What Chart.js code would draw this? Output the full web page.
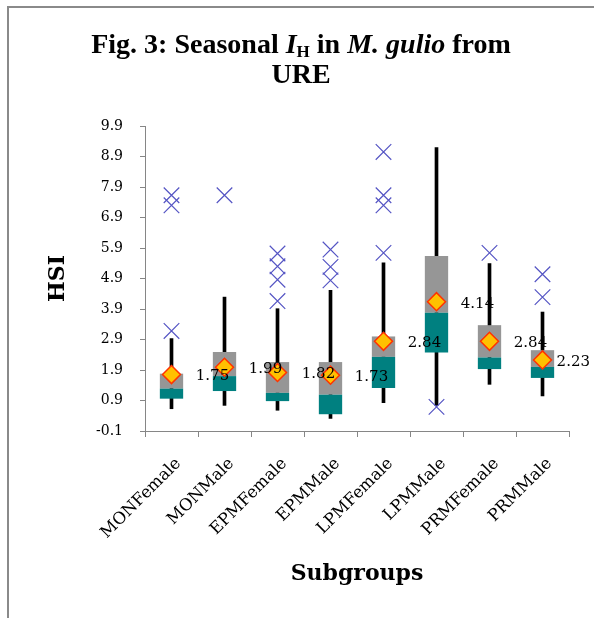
<!DOCTYPE html>
<html>
<head>
<meta charset="utf-8">
<script src="https://cdn.jsdelivr.net/npm/chart.js@4.4.1/dist/chart.umd.min.js"></script>
<style>
    html, body { margin: 0; padding: 0; background: #fff; }
    #wrap { position: relative; width: 594px; height: 618px; overflow: hidden; }
    #frame { position: absolute; left: 7px; top: 6px; right: -10px; bottom: -10px; border-top: 2px solid #8a8a8a; border-left: 2px solid #8a8a8a; }
    #title { position: absolute; left: 0; top: 29px; width: 602px; text-align: center; font-family: "Liberation Serif", serif; font-weight: bold; font-size: 28px; line-height: 30px; color: #000; }
    #title sub { font-size: 17px; vertical-align: -4px; line-height: 0; }
    canvas { position: absolute; left: 0; top: 0; }
</style>
</head>
<body>
<div id="wrap">
    <canvas id="hsiChart" width="594" height="618"></canvas>
    <div id="frame"></div>
    <div id="title">Fig. 3: Seasonal <i>I</i><sub>H</sub> in <i>M. gulio</i> from<br>URE</div>
</div>
<script>
// Данные диаграммы
var categories = ['MONFemale', 'MONMale', 'EPMFemale', 'EPMMale', 'LPMFemale', 'LPMMale', 'PRMFemale', 'PRMMale'];
var whiskerLow = [0.63, 0.74, 0.58, 0.31, 0.83, 0.74, 1.43, 1.05];
var q1 = [0.96, 1.21, 0.88, 0.45, 1.31, 2.47, 1.93, 1.64];
var median = [1.29, 1.70, 1.15, 1.09, 2.33, 3.78, 2.31, 2.00];
var q3 = [1.78, 2.49, 2.16, 2.16, 3.00, 5.64, 3.37, 2.55];
var whiskerHigh = [2.93, 4.29, 3.91, 4.51, 5.41, 9.19, 5.39, 3.80];
var means = [1.75, 1.99, 1.82, 1.73, 2.84, 4.14, 2.84, 2.23];
var outliers = [[7.63, 7.30, 3.18], [7.63], [5.72, 5.30, 4.86, 4.16], [5.85, 5.28, 4.84], [9.05, 7.63, 7.30, 5.74], [0.69], [5.74], [5.04, 4.29]];
var yTicks = [-0.1, 0.9, 1.9, 2.9, 3.9, 4.9, 5.9, 6.9, 7.9, 8.9, 9.9];

var serif = '"DejaVu Serif", serif';

// Выбросы как точки
var outlierPoints = [];
outliers.forEach(function(list, i) {
    list.forEach(function(v) {
        outlierPoints.push({ x: categories[i], y: v });
    });
});

// Подписи средних значений (сдвинуты вправо, как в Excel)
var meanLabels = {
    id: 'meanLabels',
    afterDatasetsDraw: function(chart) {
        var meta = chart.getDatasetMeta(3);
        var c = chart.ctx;
        c.save();
        c.font = '15px ' + serif;
        c.fillStyle = '#000';
        c.textAlign = 'center';
        c.textBaseline = 'middle';
        meta.data.forEach(function(pt, i) {
            var txt = means[i].toFixed(2);
            var w = c.measureText(txt).width;
            var x = Math.min(pt.x + 41, chart.width - 4 - w / 2);
            c.fillText(txt, x, pt.y + 2);
        });
        c.restore();
    }
};

var ctx = document.getElementById('hsiChart').getContext('2d');
var myChart = new Chart(ctx, {
    type: 'bar',
    data: {
        labels: categories,
        datasets: [{
            label: 'Whisker',
            data: categories.map(function(c, i) { return [whiskerLow[i], whiskerHigh[i]]; }),
            backgroundColor: '#000',
            barThickness: 3,
            grouped: false,
            order: 4
        }, {
            label: 'Q1-Median',
            data: categories.map(function(c, i) { return [q1[i], median[i]]; }),
            backgroundColor: '#008080',
            barPercentage: 0.44,
            categoryPercentage: 1,
            grouped: false,
            order: 3
        }, {
            label: 'Median-Q3',
            data: categories.map(function(c, i) { return [median[i], q3[i]]; }),
            backgroundColor: '#969696',
            barPercentage: 0.44,
            categoryPercentage: 1,
            grouped: false,
            order: 3
        }, {
            type: 'line',
            label: 'Mean',
            data: means,
            showLine: false,
            pointStyle: 'rectRot',
            pointRadius: 9,
            pointBackgroundColor: '#FFC000',
            pointBorderColor: '#FF3300',
            pointBorderWidth: 1.5,
            order: 0
        }, {
            type: 'scatter',
            label: 'Outliers',
            data: outlierPoints,
            pointStyle: 'crossRot',
            pointRadius: 11,
            pointBorderColor: '#5555c4',
            pointHoverBorderColor: '#5555c4',
            pointBorderWidth: 1.2,
            order: 1
        }]
    },
    options: {
        responsive: false,
        animation: false,
        events: [],
        layout: { padding: { left: 40, right: 25, top: 126, bottom: 0 } },
        plugins: {
            legend: { display: false },
            tooltip: { enabled: false }
        },
        scales: {
            x: {
                offset: true,
                grid: { offset: true, drawOnChartArea: false, tickLength: 6, color: '#868686' },
                border: { color: '#868686' },
                ticks: { minRotation: 45, maxRotation: 45, padding: 17, labelOffset: 7, color: '#000', font: { family: serif, size: 16.5 } },
                title: { display: true, text: 'Subgroups', color: '#000', font: { family: serif, size: 22, weight: 'bold' }, padding: { top: 0, bottom: 31 } },
                afterFit: function(s) { s.height = 187; }
            },
            y: {
                min: -0.1,
                max: 9.9,
                afterBuildTicks: function(s) { s.ticks = yTicks.map(function(v) { return { value: v }; }); },
                grid: { drawOnChartArea: false, tickLength: 5, color: '#868686' },
                border: { color: '#868686' },
                ticks: { padding: 17, color: '#000', font: { family: serif, size: 14 }, callback: function(v) { return v.toFixed(1); } },
                title: { display: true, text: 'HSI', color: '#000', font: { family: serif, size: 22, weight: 'bold' }, padding: { top: 5, bottom: 0 } },
                afterFit: function(s) { s.width = 105; }
            }
        }
    },
    plugins: [meanLabels]
});
</script>
</body>
</html>
